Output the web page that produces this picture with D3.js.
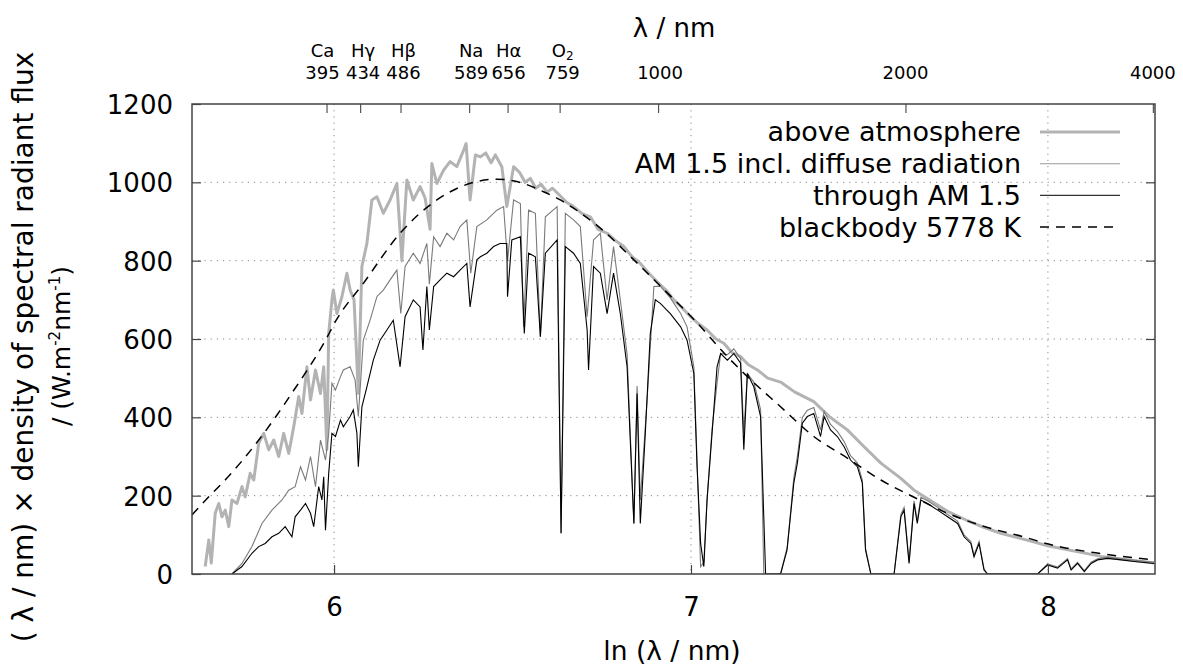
<!DOCTYPE html>
<html>
<head>
<meta charset="utf-8">
<script src="https://cdn.jsdelivr.net/npm/d3@7"></script>
<style>
body { margin: 0; background: #fff; }
svg { display: block; font-family: "DejaVu Sans", sans-serif; }
</style>
</head>
<body>
<script>
// x = ln(lambda / nm), y = (lambda / nm) x spectral flux density / (W m^-2 nm^-1)
var aboveAtm = [
  [5.639,19],[5.649,87],[5.656,28],[5.667,155],[5.677,180],[5.686,146],[5.695,163],[5.705,121],
  [5.714,189],[5.728,180],[5.742,223],[5.751,197],[5.765,257],[5.775,240],[5.789,334],[5.803,359],
  [5.817,317],[5.831,342],[5.845,300],[5.859,359],[5.873,308],[5.887,376],[5.901,453],[5.910,410],
  [5.924,529],[5.934,444],[5.948,521],[5.962,461],[5.971,529],[5.980,317],[5.985,614],[5.994,700],
  [5.998,725],[6.008,665],[6.022,708],[6.036,768],[6.045,725],[6.056,700],[6.068,461],[6.078,785],
  [6.092,844],[6.106,955],[6.120,963],[6.138,921],[6.157,955],[6.176,997],[6.190,800],[6.204,1006],
  [6.222,955],[6.241,989],[6.255,960],[6.269,880],[6.274,1048],[6.288,997],[6.307,1031],[6.325,1053],
  [6.344,1040],[6.363,1082],[6.370,1099],[6.381,955],[6.396,1070],[6.410,1065],[6.425,1075],[6.440,1050],
  [6.452,1070],[6.470,1040],[6.484,938],[6.503,1040],[6.520,1025],[6.535,1000],[6.550,1010],[6.565,985],
  [6.580,995],[6.597,975],[6.612,985],[6.634,965],[6.650,950],[6.671,938],[6.695,920],[6.718,912],
  [6.740,880],[6.765,870],[6.790,850],[6.812,836],[6.835,810],[6.858,793],[6.880,770],[6.905,746],
  [6.930,725],[6.952,700],[6.975,680],[6.999,657],[7.020,640],[7.045,623],[7.070,600],[7.092,589],
  [7.115,565],[7.139,555],[7.160,535],[7.186,521],[7.215,500],[7.251,490],[7.290,465],[7.344,440],
  [7.390,400],[7.438,368],[7.485,325],[7.532,283],[7.588,244],[7.625,214],[7.663,192],[7.719,160],
  [7.775,136],[7.812,122],[7.868,104],[7.952,84],[7.999,72],[8.149,45],[8.298,28]
];

var globalAM15 = [
  [5.714,0],[5.742,27],[5.770,70],[5.798,129],[5.826,163],[5.854,189],[5.873,214],[5.891,223],
  [5.906,274],[5.920,240],[5.934,300],[5.948,223],[5.962,342],[5.976,291],[5.985,359],[5.994,487],
  [6.004,470],[6.018,504],[6.026,521],[6.045,529],[6.059,495],[6.068,402],[6.082,597],[6.101,648],
  [6.120,708],[6.138,725],[6.157,751],[6.176,776],[6.187,665],[6.199,785],[6.222,819],[6.241,793],
  [6.260,844],[6.267,740],[6.279,861],[6.297,836],[6.316,870],[6.335,853],[6.353,887],[6.372,904],
  [6.383,768],[6.400,887],[6.428,904],[6.456,929],[6.475,938],[6.486,800],[6.503,955],[6.522,946],
  [6.531,631],[6.545,929],[6.564,921],[6.578,606],[6.592,912],[6.625,938],[6.636,104],[6.648,921],
  [6.671,904],[6.690,887],[6.709,657],[6.727,853],[6.746,870],[6.765,700],[6.783,836],[6.802,700],
  [6.821,560],[6.840,129],[6.849,480],[6.858,189],[6.877,444],[6.896,734],[6.914,735],[6.942,705],
  [6.971,665],[6.989,631],[7.008,529],[7.017,290],[7.027,19],[7.036,30],[7.045,190],[7.059,370],
  [7.073,487],[7.083,563],[7.102,560],[7.120,575],[7.139,550],[7.148,359],[7.158,512],[7.176,490],
  [7.195,420],[7.204,0],[7.251,0],[7.270,70],[7.288,245],[7.298,300],[7.312,400],[7.326,418],
  [7.344,425],[7.363,368],[7.373,415],[7.391,382],[7.410,364],[7.429,338],[7.447,302],[7.466,284],
  [7.480,240],[7.489,66],[7.504,0],[7.569,0],[7.588,152],[7.597,170],[7.611,32],[7.625,187],
  [7.634,136],[7.644,196],[7.663,187],[7.691,170],[7.719,152],[7.747,135],[7.765,100],[7.784,83],
  [7.793,48],[7.807,83],[7.821,13],[7.831,0],[7.971,0],[7.999,26],[8.027,18],[8.055,39],
  [8.065,13],[8.083,30],[8.102,9],[8.121,30],[8.139,39],[8.167,43],[8.205,39],[8.242,35],[8.298,30]
];

var directAM15 = [
  [5.714,0],[5.742,19],[5.770,53],[5.789,70],[5.807,78],[5.826,95],[5.845,104],[5.863,121],
  [5.882,95],[5.891,146],[5.906,163],[5.920,180],[5.934,155],[5.943,121],[5.957,223],[5.966,189],
  [5.971,248],[5.976,112],[5.985,257],[5.994,359],[6.004,351],[6.018,393],[6.026,376],[6.045,402],
  [6.054,419],[6.064,359],[6.068,274],[6.078,427],[6.092,478],[6.110,546],[6.129,597],[6.148,623],
  [6.166,648],[6.185,529],[6.199,657],[6.222,700],[6.241,682],[6.249,572],[6.260,734],[6.267,623],
  [6.279,734],[6.297,751],[6.316,768],[6.335,759],[6.353,776],[6.372,793],[6.381,682],[6.400,802],
  [6.410,810],[6.428,819],[6.447,836],[6.465,844],[6.484,844],[6.486,708],[6.498,853],[6.522,861],
  [6.533,614],[6.545,819],[6.564,810],[6.578,606],[6.592,819],[6.625,853],[6.636,104],[6.648,836],
  [6.671,819],[6.690,793],[6.709,623],[6.713,521],[6.727,785],[6.746,768],[6.765,665],[6.783,768],
  [6.802,665],[6.821,529],[6.840,129],[6.849,461],[6.858,129],[6.872,359],[6.886,614],[6.900,700],
  [6.914,691],[6.942,665],[6.971,631],[6.989,597],[7.008,512],[7.017,274],[7.027,78],[7.036,19],
  [7.045,189],[7.059,359],[7.073,529],[7.083,563],[7.102,546],[7.120,563],[7.139,538],[7.148,317],
  [7.158,512],[7.176,478],[7.195,402],[7.209,0],[7.251,0],[7.269,61],[7.288,232],[7.298,283],
  [7.312,385],[7.326,402],[7.344,410],[7.363,351],[7.373,402],[7.391,368],[7.410,351],[7.429,325],
  [7.447,291],[7.466,274],[7.480,232],[7.489,61],[7.504,0],[7.569,0],[7.588,146],[7.597,163],
  [7.611,27],[7.625,180],[7.634,129],[7.644,189],[7.663,180],[7.691,163],[7.719,146],[7.747,129],
  [7.765,95],[7.784,78],[7.793,44],[7.807,78],[7.821,10],[7.831,0],[7.971,0],[7.999,23],
  [8.027,15],[8.055,36],[8.065,10],[8.083,27],[8.102,6],[8.121,27],[8.139,36],[8.167,40],
  [8.205,36],[8.242,32],[8.298,27]
];

var blackbody = [
  [5.602,151],[5.649,197],[5.700,245],[5.789,342],[5.882,462],[5.976,597],[6.006,648],[6.082,742],
  [6.185,870],[6.288,955],[6.400,1002],[6.456,1008],[6.512,1002],[6.587,976],[6.634,955],[6.671,934],
  [6.750,880],[6.840,802],[6.920,730],[7.008,650],[7.102,555],[7.158,504],[7.251,427],[7.344,351],
  [7.438,296],[7.532,240],[7.625,196],[7.719,155],[7.812,124],[7.943,92],[7.999,77],[8.149,52],[8.298,36]
];

var lnTicks = [6, 7, 8];
var yTicks = [0, 200, 400, 600, 800, 1000, 1200];
var topTickNm = [395, 434, 486, 589, 656, 759, 1000, 2000, 4000];
var topTickName = ["Ca", "H\u03b3", "H\u03b2", "Na", "H\u03b1", "O2", "", "", ""];
var topLabelShift = [-4, 3, 3, 2, 1, 3, 2, 0, 0];
var legendLabels = ["above atmosphere", "AM 1.5 incl. diffuse radiation", "through AM 1.5", "blackbody 5778 K"];

var W = 1183, H = 666;
var margin = {top: 104, right: 28, bottom: 92, left: 192};

var svg = d3.select("body").append("svg")
  .attr("width", W)
  .attr("height", H);

var x = d3.scaleLinear().domain([5.602, 8.3]).range([margin.left, W - margin.right]);
var y = d3.scaleLinear().domain([0, 1200]).range([H - margin.bottom, margin.top]);

svg.append("defs").append("clipPath").attr("id", "plot")
  .append("rect")
  .attr("x", margin.left).attr("y", margin.top)
  .attr("width", W - margin.left - margin.right)
  .attr("height", H - margin.top - margin.bottom);

// grid
var grid = svg.append("g").attr("stroke", "#888").attr("stroke-width", 1).attr("stroke-dasharray", "1.2,5");
grid.selectAll(".hg")
  .data(yTicks.slice(1, -1))
  .enter().append("line")
  .attr("x1", margin.left).attr("x2", W - margin.right)
  .attr("y1", d => y(d)).attr("y2", d => y(d));
grid.selectAll(".vg")
  .data(lnTicks)
  .enter().append("line")
  .attr("x1", d => x(d)).attr("x2", d => x(d))
  .attr("y1", margin.top).attr("y2", H - margin.bottom);

// curves
var line = d3.line().x(d => x(d[0])).y(d => y(d[1]));
var smooth = d3.line().x(d => x(d[0])).y(d => y(d[1])).curve(d3.curveMonotoneX);
var plot = svg.append("g").attr("clip-path", "url(#plot)").attr("fill", "none");

plot.append("path").datum(aboveAtm)
  .attr("d", line).attr("stroke", "#b3b3b3").attr("stroke-width", 3).attr("stroke-linejoin", "round");
plot.append("path").datum(globalAM15)
  .attr("d", line).attr("stroke", "#7a7a7a").attr("stroke-width", 1.1);
plot.append("path").datum(directAM15)
  .attr("d", line).attr("stroke", "#000").attr("stroke-width", 1.1);
plot.append("path").datum(blackbody)
  .attr("d", smooth).attr("stroke", "#000").attr("stroke-width", 1.5)
  .attr("stroke-dasharray", "9,7");

// axes
function styleAxis(g) {
  g.select(".domain").remove();
  g.selectAll(".tick line").attr("stroke", "#444").attr("stroke-width", 1.2);
  g.selectAll(".tick text").attr("fill", "#000").attr("font-family", "DejaVu Sans");
}

svg.append("g")
  .attr("transform", "translate(" + margin.left + ",0)")
  .call(d3.axisLeft(y).tickValues(yTicks).tickSize(-9).tickSizeOuter(0).tickPadding(19).tickFormat(d3.format("d")))
  .call(styleAxis)
  .selectAll(".tick text").attr("font-size", 26).attr("dy", "0.36em");

svg.append("g")
  .attr("transform", "translate(" + (W - margin.right) + ",0)")
  .call(d3.axisRight(y).tickValues(yTicks.slice(1, -1)).tickSize(-9).tickSizeOuter(0).tickFormat(""))
  .call(styleAxis);

svg.append("g")
  .attr("transform", "translate(0," + (H - margin.bottom) + ")")
  .call(d3.axisBottom(x).tickValues(lnTicks).tickSize(-9).tickSizeOuter(0).tickPadding(24).tickFormat(d3.format("d")))
  .call(styleAxis)
  .selectAll(".tick text").attr("font-size", 26);

var topAxis = svg.append("g")
  .attr("transform", "translate(0," + margin.top + ")")
  .call(d3.axisTop(x).tickValues(topTickNm.map(Math.log)).tickSize(-9).tickSizeOuter(0).tickFormat(""))
  .call(styleAxis);
topAxis.selectAll(".tick line").attr("stroke", "#555");

var topLab = svg.append("g").attr("font-size", 18).attr("text-anchor", "middle");
topLab.selectAll(".num")
  .data(topTickNm)
  .enter().append("text")
  .attr("x", (d, i) => x(Math.log(d)) + topLabelShift[i])
  .attr("y", 79)
  .text(d => d);
var names = topLab.selectAll(".nm")
  .data(topTickNm.map((d, i) => [d, topTickName[i], topLabelShift[i]]).filter(d => d[1] !== ""))
  .enter().append("text")
  .attr("x", d => x(Math.log(d[0])) + d[2])
  .attr("y", 57);
names.each(function(d) {
  var t = d3.select(this);
  if (d[1] === "O2") {
    t.append("tspan").text("O");
    t.append("tspan").attr("font-size", 12).attr("dy", 3).text("2");
  } else {
    t.text(d[1]);
  }
});

// frame
svg.append("rect")
  .attr("x", margin.left).attr("y", margin.top)
  .attr("width", W - margin.left - margin.right)
  .attr("height", H - margin.top - margin.bottom)
  .attr("fill", "none").attr("stroke", "#444").attr("stroke-width", 1.5);

// axis titles
svg.append("text")
  .attr("x", 674).attr("y", 37)
  .attr("text-anchor", "middle").attr("font-size", 26)
  .text("\u03bb / nm");

svg.append("text")
  .attr("x", 672).attr("y", 660)
  .attr("text-anchor", "middle").attr("font-size", 26.5)
  .text("ln (\u03bb / nm)");

svg.append("text")
  .attr("transform", "translate(33,347) rotate(-90)")
  .attr("text-anchor", "middle").attr("font-size", 28)
  .text("( \u03bb / nm) \u00d7 density of spectral radiant flux");

var yl2 = svg.append("text")
  .attr("transform", "translate(70,346) rotate(-90)")
  .attr("text-anchor", "middle").attr("font-size", 25);
yl2.append("tspan").text("/ (W.m");
yl2.append("tspan").attr("font-size", 15).attr("dy", -10).text("-2");
yl2.append("tspan").attr("dy", 10).text("nm");
yl2.append("tspan").attr("font-size", 15).attr("dy", -10).text("-1");
yl2.append("tspan").attr("dy", 10).text(")");

// legend
var legendStyle = [
  {stroke: "#b3b3b3", width: 3, dash: null},
  {stroke: "#999", width: 1.1, dash: null},
  {stroke: "#333", width: 1.3, dash: null},
  {stroke: "#000", width: 1.5, dash: "9,7"}
];
var legend = svg.append("g").selectAll("g")
  .data(legendLabels)
  .enter().append("g")
  .attr("transform", (d, i) => "translate(0," + (132 + i * 31.7) + ")");
legend.append("text")
  .attr("x", 1021).attr("dy", "0.35em")
  .attr("text-anchor", "end").attr("font-size", 27)
  .text(d => d);
legend.append("line")
  .attr("x1", 1040).attr("x2", 1120)
  .attr("stroke", (d, i) => legendStyle[i].stroke)
  .attr("stroke-width", (d, i) => legendStyle[i].width)
  .attr("stroke-dasharray", (d, i) => legendStyle[i].dash);
</script>
</body>
</html>
